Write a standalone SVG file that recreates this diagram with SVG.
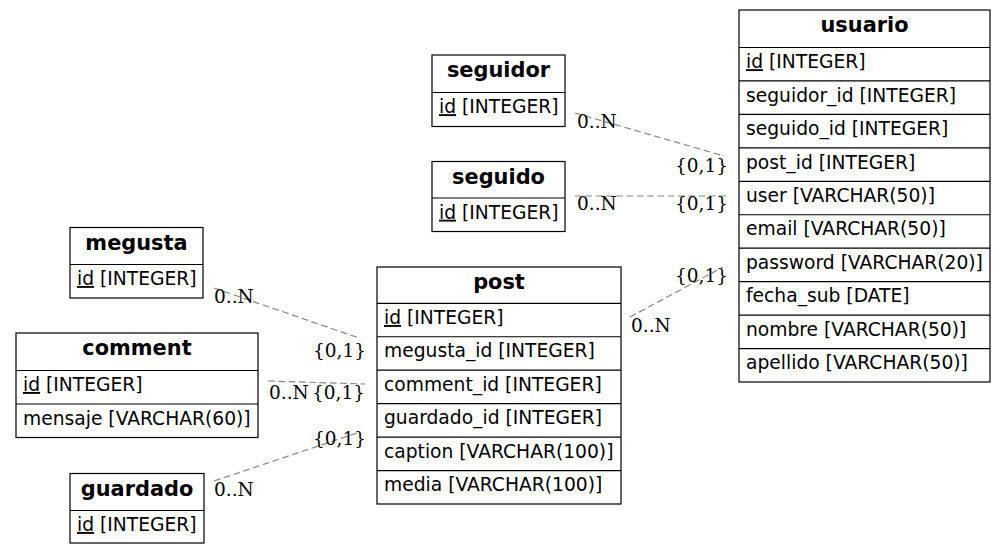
<svg xmlns="http://www.w3.org/2000/svg" width="1007" height="554" viewBox="0 0 1007 554">
<style>
.box{fill:#fff;stroke:#000;stroke-width:1.2}
.sep{stroke:#000;stroke-width:1.2}
.hd{font-family:"DejaVu Sans",sans-serif;font-weight:bold;font-size:20.9px;text-anchor:middle;fill:#000}
.rw{font-family:"DejaVu Sans",sans-serif;font-size:18.7px;fill:#000}
.pk{text-decoration:underline}
.edge{fill:none;stroke:#888;stroke-width:1.2;stroke-dasharray:6.7,3.6}
.lbl{font-family:"DejaVu Serif",serif;font-size:18.5px;fill:#000}
</style>
<rect width="1007" height="554" fill="#fff"/>
<g id="connectors">
<path class="edge" d="M575,113 L724,156"/>
<path class="edge" d="M575,196 L728,196"/>
<path class="edge" d="M630,317 L723,267"/>
<path class="edge" d="M214,288 L359,338"/>
<path class="edge" d="M268,381 L365,384"/>
<path class="edge" d="M214,481 L357,433"/>
<text class="lbl" x="577" y="128">0..N</text>
<text class="lbl" x="675" y="171.5">{0,1}</text>
<text class="lbl" x="577" y="210">0..N</text>
<text class="lbl" x="675" y="210">{0,1}</text>
<text class="lbl" x="675" y="281.5">{0,1}</text>
<text class="lbl" x="631" y="331.5">0..N</text>
<text class="lbl" x="214" y="303">0..N</text>
<text class="lbl" x="313" y="357">{0,1}</text>
<text class="lbl" x="269" y="399">0..N</text>
<text class="lbl" x="312" y="399">{0,1}</text>
<text class="lbl" x="313" y="445">{0,1}</text>
<text class="lbl" x="214" y="496">0..N</text>
</g>
<g id="usuario">
<rect class="box" x="739" y="10" width="251" height="372"/>
<path class="sep" d="M739,47.5H990M739,80.95H990M739,114.4H990M739,147.85H990M739,181.3H990M739,214.75H990M739,248.2H990M739,281.65H990M739,315.1H990M739,348.55H990"/>
<text class="hd" x="864.5" y="32">usuario</text>
<text class="rw" x="746" y="68.2"><tspan class="pk">id</tspan> [INTEGER]</text>
<text class="rw" x="746" y="101.6">seguidor_id [INTEGER]</text>
<text class="rw" x="746" y="135.1">seguido_id [INTEGER]</text>
<text class="rw" x="746" y="168.5">post_id [INTEGER]</text>
<text class="rw" x="746" y="202">user [VARCHAR(50)]</text>
<text class="rw" x="746" y="235.4">email [VARCHAR(50)]</text>
<text class="rw" x="746" y="268.9">password [VARCHAR(20)]</text>
<text class="rw" x="746" y="302.3">fecha_sub [DATE]</text>
<text class="rw" x="746" y="335.8">nombre [VARCHAR(50)]</text>
<text class="rw" x="746" y="369.2">apellido [VARCHAR(50)]</text>
</g>
<g id="post">
<rect class="box" x="377" y="267" width="244" height="237"/>
<path class="sep" d="M377,303.3H621M377,336.75H621M377,370.2H621M377,403.65H621M377,437.1H621M377,470.55H621"/>
<text class="hd" x="499" y="289">post</text>
<text class="rw" x="384" y="324"><tspan class="pk">id</tspan> [INTEGER]</text>
<text class="rw" x="384" y="357.4">megusta_id [INTEGER]</text>
<text class="rw" x="384" y="390.9">comment_id [INTEGER]</text>
<text class="rw" x="384" y="424.3">guardado_id [INTEGER]</text>
<text class="rw" x="384" y="457.8">caption [VARCHAR(100)]</text>
<text class="rw" x="384" y="491.2">media [VARCHAR(100)]</text>
</g>
<g id="seguidor">
<rect class="box" x="432" y="55" width="133" height="71.5"/>
<path class="sep" d="M432,92.5H565"/>
<text class="hd" x="498.5" y="77">seguidor</text>
<text class="rw" x="439" y="113.2"><tspan class="pk">id</tspan> [INTEGER]</text>
</g>
<g id="seguido">
<rect class="box" x="432" y="161.5" width="133" height="70"/>
<path class="sep" d="M432,198H565"/>
<text class="hd" x="498.5" y="183.5">seguido</text>
<text class="rw" x="439" y="218.7"><tspan class="pk">id</tspan> [INTEGER]</text>
</g>
<g id="megusta">
<rect class="box" x="70" y="227.5" width="133" height="70.5"/>
<path class="sep" d="M70,264.5H203"/>
<text class="hd" x="136.5" y="249.5">megusta</text>
<text class="rw" x="77" y="285"><tspan class="pk">id</tspan> [INTEGER]</text>
</g>
<g id="comment">
<rect class="box" x="16" y="333" width="242" height="104.5"/>
<path class="sep" d="M16,370.5H258M16,404H258"/>
<text class="hd" x="137" y="355">comment</text>
<text class="rw" x="23" y="391"><tspan class="pk">id</tspan> [INTEGER]</text>
<text class="rw" x="23" y="424.5">mensaje [VARCHAR(60)]</text>
</g>
<g id="guardado">
<rect class="box" x="70" y="473.5" width="134" height="69.5"/>
<path class="sep" d="M70,510.5H204"/>
<text class="hd" x="137" y="495.5">guardado</text>
<text class="rw" x="77" y="531"><tspan class="pk">id</tspan> [INTEGER]</text>
</g>
</svg>
